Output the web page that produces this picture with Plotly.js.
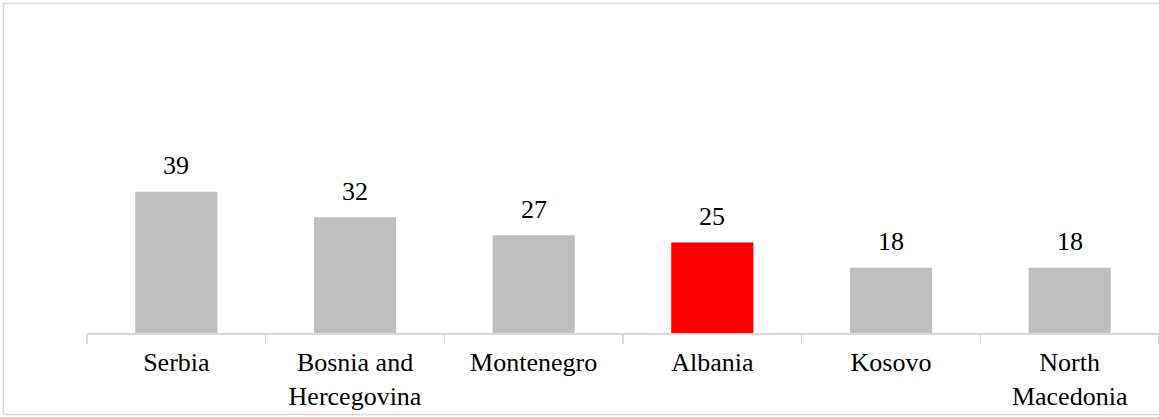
<!DOCTYPE html>
<html>
<head>
<meta charset="utf-8">
<script src="https://cdn.plot.ly/plotly-3.0.1.min.js"></script>
<style>
  html, body { margin: 0; padding: 0; background: #ffffff; overflow: hidden; }
  #chart { width: 1159px; height: 417px; }
</style>
</head>
<body>
<div id="chart"></div>
<script>
// Countries and their values
const countries = ["Serbia", "Bosnia and<br>Hercegovina", "Montenegro", "Albania", "Kosovo", "North<br>Macedonia"];
const values = [39, 32, 27, 25, 18, 18];
const highlight = "Albania";

const GREY = "#bfbfbf";
const RED = "#ff0000";
const AXIS = "#d9d9d9";
const FONT = "Liberation Serif";

const barColors = countries.map(c => (c === highlight ? RED : GREY));

const trace = {
  type: "bar",
  x: countries,
  y: values,
  marker: { color: barColors, line: { width: 0 } },
  hoverinfo: "x+y"
};

// Value labels placed above each bar
const labels = countries.map((c, i) => ({
  x: c,
  y: values[i],
  xref: "x",
  yref: "y",
  text: String(values[i]),
  showarrow: false,
  yanchor: "middle",
  yshift: 26,
  font: { family: FONT, size: 26, color: "#000000" }
}));

// Plot-area geometry (pixels) used to place the outer frame
const W = 1159, H = 417;
const M = { l: 87, r: 0, t: 152, b: 84 };
const pw = W - M.l - M.r, ph = H - M.t - M.b;
const px = v => (v - M.l) / pw;
const py = v => (H - M.b - v) / ph;

const layout = {
  width: W,
  height: H,
  margin: M,
  paper_bgcolor: "#ffffff",
  plot_bgcolor: "#ffffff",
  showlegend: false,
  bargap: 0.54,
  font: { family: FONT, size: 26, color: "#000000" },
  xaxis: {
    type: "category",
    showline: true,
    linecolor: AXIS,
    linewidth: 1.5,
    ticks: "outside",
    tickson: "boundaries",
    ticklen: 9,
    tickwidth: 1.5,
    tickcolor: AXIS,
    ticklabelstandoff: 5,
    showgrid: false,
    zeroline: false,
    tickfont: { family: FONT, size: 26, color: "#000000" },
    fixedrange: true
  },
  yaxis: {
    range: [0, 50],
    visible: false,
    showgrid: false,
    zeroline: false,
    fixedrange: true
  },
  annotations: labels,
  shapes: [{
    type: "rect",
    xref: "paper",
    yref: "paper",
    x0: px(3.5),
    x1: px(1163),
    y0: py(414.5),
    y1: py(3.5),
    line: { color: AXIS, width: 1.5 },
    fillcolor: "rgba(0,0,0,0)",
    layer: "below"
  }]
};

Plotly.newPlot("chart", [trace], layout, { displayModeBar: false, staticPlot: true });
</script>
</body>
</html>
